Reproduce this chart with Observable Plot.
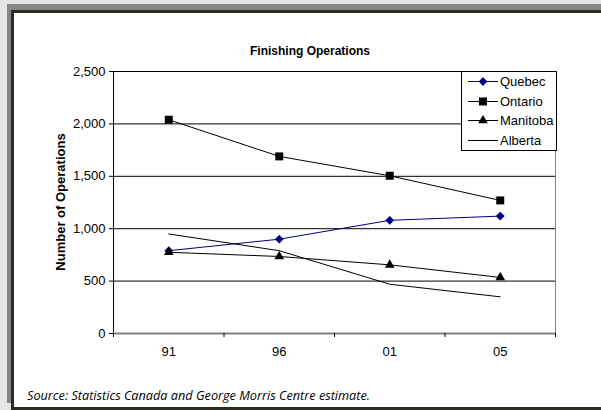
<!DOCTYPE html>
<html>
<head>
<meta charset="utf-8">
<script src="https://cdn.jsdelivr.net/npm/d3@7"></script>
<script src="https://cdn.jsdelivr.net/npm/@observablehq/plot@0.6"></script>
<style>
  html, body { margin: 0; padding: 0; overflow: hidden; background: #fff; }
  body { font-family: "Liberation Sans", Arial, sans-serif; }
  #page { position: relative; width: 601px; height: 410px; overflow: hidden; background: #e6e6e6; }
  #shadow { position: absolute; left: 7px; top: 4px; width: 900px; height: 399px; background: #858585; }
  #frame { position: absolute; left: 11px; top: 10px; width: 900px; height: 400px; box-sizing: border-box; border: 3px solid #2b2b1e; border-right: none; background: #fff; }
  #cover { position: absolute; left: 580px; top: 13px; width: 40px; height: 394px; background: #fff; z-index: 50; }
  #chart { position: absolute; left: 0; top: 0; }
  #chart svg { font-family: "Liberation Sans", Arial, sans-serif; font-size: 13px; }
  #title { position: absolute; left: 210px; width: 200px; top: 44px; text-align: center; font-weight: bold; font-size: 12px; color: #000; }
  #ylabel { position: absolute; left: 60px; top: 202px; transform: translate(-50%, -50%) rotate(-90deg); white-space: nowrap; font-weight: bold; font-size: 13px; }
  #caption { position: absolute; left: 27px; top: 386px; font-family: "Open Sans", sans-serif; font-style: italic; font-size: 12.7px; color: #000; white-space: nowrap; }
  #legend { position: absolute; left: 461px; top: 71px; width: 96px; height: 80px; box-sizing: border-box; border: 1px solid #000; background: #fff; }
</style>
</head>
<body>
<div id="page">
<div id="shadow"></div>
<div id="frame"></div>
<div id="cover"></div>
<div id="chart"></div>
<div id="title">Finishing Operations</div>
<div id="ylabel">Number of Operations</div>
<div id="caption">Source: Statistics Canada and George Morris Centre estimate.</div>
<div id="legend"></div>
</div>
<script>
const years = ["91", "96", "01", "05"];
const seriesNames = ["Quebec", "Ontario", "Manitoba", "Alberta"];
const quebec = [790, 900, 1080, 1120];
const ontario = [2040, 1690, 1505, 1270];
const manitoba = [775, 735, 655, 535];
const alberta = [950, 790, 470, 350];
const yTicks = [0, 500, 1000, 1500, 2000, 2500];

const seriesValues = {Quebec: quebec, Ontario: ontario, Manitoba: manitoba, Alberta: alberta};
const styles = {
  Quebec: {stroke: "#000080", symbol: "diamond2", r: 3.0},
  Ontario: {stroke: "#000", symbol: "square", r: 4.5},
  Manitoba: {stroke: "#000", symbol: "triangle", r: 3.6},
  Alberta: {stroke: "#000", symbol: null, r: 0}
};

const rows = [];
for (const name of seriesNames) {
  seriesValues[name].forEach((v, i) => rows.push({series: name, year: years[i], pos: i + 0.5, value: v}));
}

const marks = [
  Plot.ruleY(yTicks.filter(d => d > 0), {stroke: "#000", strokeWidth: 1}),
  Plot.ruleX([4], {stroke: "#808080", strokeWidth: 1}),
  Plot.ruleX([0], {stroke: "#000", strokeWidth: 1}),
  Plot.ruleY([0], {stroke: "#808080", strokeWidth: 2}),
  Plot.axisY(yTicks, {tickFormat: d3.format(","), tickSize: 4, tickPadding: 4, label: null, fontSize: 13}),
  Plot.axisX([0, 1, 2, 3, 4], {tickFormat: () => "", tickSize: 4, label: null}),
  Plot.axisX(years.map((d, i) => i + 0.5), {tickFormat: p => years[Math.floor(p)], tickSize: 0, tickPadding: 13, label: null, fontSize: 13})
];
for (const name of seriesNames) {
  const data = rows.filter(d => d.series === name);
  const s = styles[name];
  marks.push(Plot.line(data, {x: "pos", y: "value", stroke: s.stroke, strokeWidth: 1}));
  if (s.symbol) {
    marks.push(Plot.dot(data, {x: "pos", y: "value", symbol: () => s.symbol, r: s.r, fill: s.stroke, stroke: s.stroke, strokeWidth: s.symbol === "diamond2" ? 1.5 : 0}));
  }
}

const chart = Plot.plot({
  width: 601,
  height: 410,
  marginLeft: 113,
  marginRight: 46,
  marginTop: 71,
  marginBottom: 77,
  style: "background: transparent; font-family: 'Liberation Sans', Arial, sans-serif; font-size: 13px; color: #000; overflow: visible;",
  x: {type: "linear", domain: [0, 4], axis: null},
  y: {domain: [0, 2500], axis: null},
  symbol: {type: "identity"},
  marks
});
document.getElementById("chart").appendChild(chart);

// legend
const legend = d3.select("#legend");
seriesNames.forEach((name, i) => {
  const s = styles[name];
  const row = legend.append("div")
    .style("position", "absolute").style("left", "0px").style("top", (i * 19.6) + "px")
    .style("height", "19px").style("width", "94px");
  const svg = row.append("svg").attr("width", 36).attr("height", 19)
    .style("position", "absolute").style("left", "0px").style("top", "0px");
  svg.append("line").attr("x1", 6).attr("x2", 36).attr("y1", 9.5).attr("y2", 9.5)
    .attr("stroke", s.stroke).attr("stroke-width", 1);
  if (s.symbol) {
    const sym = {diamond2: d3.symbolDiamond2, square: d3.symbolSquare, triangle: d3.symbolTriangle}[s.symbol];
    svg.append("path").attr("transform", "translate(21,9.5)")
      .attr("d", d3.symbol(sym, Math.PI * s.r * s.r)())
      .attr("fill", s.stroke).attr("stroke", s.stroke)
      .attr("stroke-width", s.symbol === "diamond2" ? 1.5 : 0);
  }
  row.append("div").text(name)
    .style("position", "absolute").style("left", "38px").style("top", "2px")
    .style("font-size", "13px").style("line-height", "15px");
});
</script>
</body>
</html>
